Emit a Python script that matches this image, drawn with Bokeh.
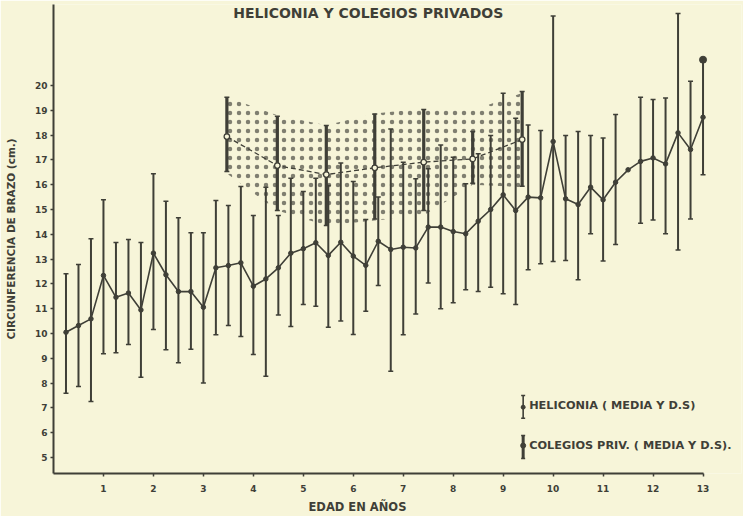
import math
from bokeh.plotting import figure
from bokeh.models import ColumnDataSource, Whisker, TeeHead, Label, FixedTicker, Range1d, Title
from bokeh.embed import file_html
from bokeh.resources import INLINE

# ---------------- data ----------------
hel_age = [0.25, 0.5, 0.75, 1.0, 1.25, 1.5, 1.75, 2.0, 2.25, 2.5, 2.75, 3.0, 3.25,
           3.5, 3.75, 4.0, 4.25, 4.5, 4.75, 5.0, 5.25, 5.5, 5.75, 6.0, 6.25,
           6.5, 6.75, 7.0, 7.25, 7.5, 7.75, 8.0, 8.25, 8.5, 8.75, 9.0, 9.25,
           9.5, 9.75, 10.0, 10.25, 10.5, 10.75, 11.0, 11.25, 11.5, 11.75, 12.0,
           12.25, 12.5, 12.75, 13.0]
hel_mean = [10.05, 10.32, 10.59, 12.34, 11.46, 11.63, 10.95, 13.24, 12.37, 11.69, 11.69, 11.06, 12.65,
            12.74, 12.85, 11.91, 12.20, 12.65, 13.24, 13.42, 13.66, 13.15, 13.68, 13.12, 12.75,
            13.72, 13.39, 13.48, 13.45, 14.29, 14.29, 14.11, 14.02, 14.53, 15.00, 15.59, 14.96,
            15.50, 15.47, 17.74, 15.43, 15.20, 15.90, 15.39, 16.10, 16.60, 16.94, 17.08,
            16.84, 18.09, 17.42, 18.72]
hel_hi = [12.41, 12.78, 13.82, 15.39, 13.67, 13.79, 13.67, 16.44, 15.33, 14.67, 14.06, 14.06, 15.36,
          15.16, 15.93, 14.76, 15.90, 14.76, 16.26, 15.73, 16.26, 15.97, 16.87, 16.13, 14.60,
          15.50, 18.25, 16.91, 16.24, 16.64, 17.60, 17.11, 16.04, 17.25, 17.98, 19.69, 18.68,
          18.41, 18.19, 22.80, 17.98, 18.15, 17.98, 17.88, 18.83, float("nan"), 19.53, 19.44,
          19.50, 22.90, 20.17, 21.04]
hel_lo = [7.59, 7.86, 7.26, 9.18, 9.22, 9.56, 8.24, 10.16, 9.34, 8.82, 9.37, 8.00, 9.95,
          10.32, 9.88, 9.15, 8.28, 10.75, 10.28, 11.17, 11.10, 10.25, 10.50, 9.96, 10.90,
          11.94, 8.48, 9.95, 10.79, 12.04, 11.00, 11.24, 11.76, 11.69, 11.87, 11.60, 11.17,
          12.57, 12.81, 12.90, 12.94, 12.17, 14.02, 12.92, 13.59, float("nan"), 14.45, 14.58,
          14.02, 13.37, 14.62, 16.40]

col_age = [3.47, 4.48, 5.46, 6.43, 7.41, 8.39, 9.38]
col_mean = [17.94, 16.77, 16.41, 16.68, 16.91, 17.04, 17.82]
col_hi = [19.53, 18.76, 18.39, 18.85, 19.03, 18.15, 19.76]
col_lo = [16.53, 14.96, 14.35, 14.62, 14.96, 16.06, 15.94]
band_hi = [19.53, 18.80, 18.40, 18.87, 19.07, 19.00, 19.70]
band_lo = [16.45, 14.96, 14.35, 14.56, 14.76, 16.00, 15.90]
col_extra_age = [13.0]
col_extra_mean = [21.04]

x_ticks = [1, 2, 3, 4, 5, 6, 7, 8, 9, 10, 11, 12, 13]
y_ticks = [5, 6, 7, 8, 9, 10, 11, 12, 13, 14, 15, 16, 17, 18, 19, 20]

title_text = "HELICONIA Y COLEGIOS PRIVADOS"
x_label = "EDAD EN AÑOS"
y_label = "CIRCUNFERENCIA DE BRAZO (cm.)"
legend_hel = "HELICONIA ( MEDIA Y D.S)"
legend_col = "COLEGIOS PRIV. ( MEDIA Y D.S)."

# ---------------- style ----------------
BG = "#f7f5d9"
INK = "#3f3f37"
FONT = "DejaVu Sans"

p = figure(width=743, height=516, x_range=Range1d(0, 13.77), y_range=Range1d(4.355, 23.266),
           output_backend="svg", toolbar_location=None,
           min_border_left=53, min_border_right=2, min_border_top=4, min_border_bottom=43,
           background_fill_color=BG, border_fill_color=BG, outline_line_color=None)
p.xgrid.visible = False
p.ygrid.visible = False

for ax in (p.xaxis[0], p.yaxis[0]):
    ax.axis_line_color = INK
    ax.axis_line_width = 2
    ax.major_tick_line_color = INK
    ax.major_tick_line_width = 1.5
    ax.major_tick_in = 0
    ax.major_tick_out = 3
    ax.minor_tick_line_color = None
    ax.major_label_text_font = FONT
    ax.major_label_text_font_style = "bold"
    ax.major_label_text_font_size = "9px"
    ax.major_label_text_color = INK
p.xaxis.ticker = FixedTicker(ticks=x_ticks)
p.yaxis.ticker = FixedTicker(ticks=y_ticks)
p.xaxis.bounds = (0, 13)
p.xaxis.major_label_standoff = 8
p.yaxis.major_label_standoff = 3
p.yaxis.axis_label = y_label
p.yaxis.axis_label_text_font = FONT
p.yaxis.axis_label_text_font_style = "bold"
p.yaxis.axis_label_text_font_size = "10.5px"
p.yaxis.axis_label_text_color = INK
p.yaxis.axis_label_standoff = 15

p.add_layout(Title(text=x_label, align="left", offset=255, standoff=6, text_font=FONT,
                   text_font_style="bold", text_font_size="11.5px", text_color=INK), "below")

# dotted band of the private schools
p.varea(x=col_age, y1=band_lo, y2=band_hi, fill_alpha=0.0, fill_color=BG,
        hatch_pattern="dot", hatch_color=INK, hatch_scale=9, hatch_weight=1.2, hatch_alpha=0.65)

# Heliconia error bars
hsrc = ColumnDataSource(dict(
    x=[a for a, h in zip(hel_age, hel_hi) if not math.isnan(h)],
    hi=[h for h in hel_hi if not math.isnan(h)],
    lo=[l for l in hel_lo if not math.isnan(l)],
))
p.add_layout(Whisker(source=hsrc, base="x", upper="hi", lower="lo", dimension="height",
                     line_color=INK, line_width=2.0,
                     upper_head=TeeHead(size=5, line_color=INK, line_width=1.5),
                     lower_head=TeeHead(size=5, line_color=INK, line_width=1.5)))
p.line(hel_age, hel_mean, line_color=INK, line_width=1.6)
p.scatter(hel_age, hel_mean, size=4.5, color=INK)

# Private schools
csrc = ColumnDataSource(dict(x=col_age, hi=col_hi, lo=col_lo))
p.add_layout(Whisker(source=csrc, base="x", upper="hi", lower="lo", dimension="height",
                     line_color=INK, line_width=3.2,
                     upper_head=TeeHead(size=5, line_color=INK, line_width=1.5),
                     lower_head=TeeHead(size=5, line_color=INK, line_width=1.5)))
p.line(col_age, col_mean, line_color=INK, line_width=1.3, line_dash="5 3")
p.scatter(col_age, col_mean, size=5.5, fill_color=BG, line_color=INK, line_width=1.3)
p.scatter(col_extra_age, col_extra_mean, size=7, fill_color=INK, line_color=INK)

# legend (drawn by hand, like the original)
LEG_X = 9.4
LEG_TX = 9.52
HEL_ICON = (6.58, 7.03, 7.50)
COL_ICON = (4.96, 5.48, 5.89)
lh = ColumnDataSource(dict(x=[LEG_X], hi=[HEL_ICON[2]], lo=[HEL_ICON[0]]))
lc = ColumnDataSource(dict(x=[LEG_X], hi=[COL_ICON[2]], lo=[COL_ICON[0]]))
p.add_layout(Whisker(source=lh, base="x", upper="hi", lower="lo", dimension="height",
                     line_color=INK, line_width=1.6,
                     upper_head=TeeHead(size=4, line_color=INK, line_width=1.5),
                     lower_head=TeeHead(size=4, line_color=INK, line_width=1.5)))
p.add_layout(Whisker(source=lc, base="x", upper="hi", lower="lo", dimension="height",
                     line_color=INK, line_width=3.0,
                     upper_head=TeeHead(size=4, line_color=INK, line_width=1.5),
                     lower_head=TeeHead(size=4, line_color=INK, line_width=1.5)))
p.scatter([LEG_X], [HEL_ICON[1]], size=4, color=INK)
p.scatter([LEG_X], [COL_ICON[1]], size=5, color=INK)
for txt, yy in ((legend_hel, 7.10), (legend_col, 5.48)):
    p.add_layout(Label(x=LEG_TX, y=yy, text=txt, text_font=FONT, text_font_style="bold",
                       text_font_size="11.3px", text_color=INK, text_baseline="middle"))

# title
p.add_layout(Label(x=6.30, y=22.93, text=title_text, text_font=FONT, text_font_style="bold",
                   text_font_size="14px", text_color=INK, text_align="center",
                   text_baseline="middle"))

open("out.html", "w").write(file_html(p, INLINE))
